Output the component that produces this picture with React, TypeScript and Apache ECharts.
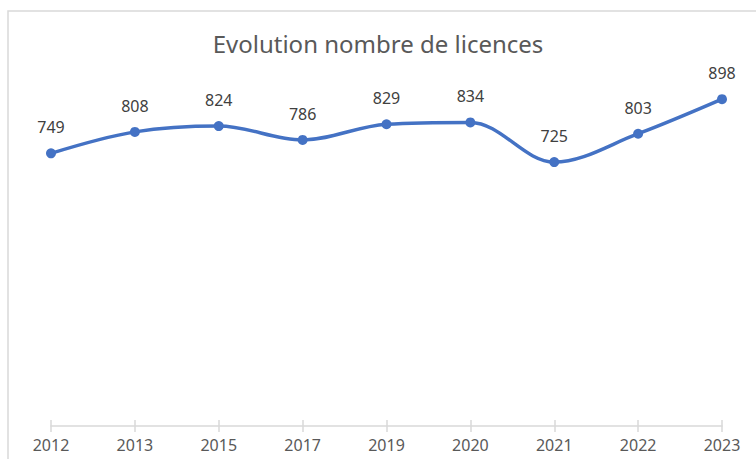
import React, { useEffect, useRef } from "react";
import * as echarts from "echarts";

const years = ["2012", "2013", "2015", "2017", "2019", "2020", "2021", "2022", "2023"];
const licences = [749, 808, 824, 786, 829, 834, 725, 803, 898];
const titleText = "Evolution nombre de licences";

export default function App() {
  const ref = useRef<HTMLDivElement>(null);
  useEffect(() => {
    const chart = echarts.init(ref.current!, null, { renderer: "svg" });
    const font = "'Noto Sans', sans-serif";
    chart.setOption({
      animation: false,
      backgroundColor: "#ffffff",
      title: {
        text: titleText,
        left: "center",
        top: 26,
        textStyle: { fontFamily: font, fontSize: 24, fontWeight: "normal", color: "#595959" },
      },
      graphic: [
        {
          type: "rect",
          shape: { x: 8, y: 11, width: 820, height: 520 },
          style: { fill: "none", stroke: "#d9d9d9", lineWidth: 1.5 },
          silent: true,
        },
      ],
      grid: { left: 51, right: 34, top: 62, bottom: 33 },
      xAxis: [
        {
          type: "category",
          data: years,
          boundaryGap: false,
          axisLine: { lineStyle: { color: "#d9d9d9", width: 1.5 } },
          axisTick: { show: true, length: 6, lineStyle: { color: "#d9d9d9", width: 1.5 } },
          axisLabel: { fontFamily: font, fontSize: 16, color: "#595959", margin: 11 },
        },
        {
          type: "category",
          data: years,
          boundaryGap: false,
          position: "bottom",
          axisLine: { show: false },
          axisTick: { show: true, inside: true, length: 6, lineStyle: { color: "#d9d9d9", width: 1.5 } },
          axisLabel: { show: false },
        },
      ],
      yAxis: { type: "value", min: 0, max: 1000, show: false, splitLine: { show: false } },
      series: [
        {
          type: "line",
          data: licences,
          smooth: 0.35,
          symbol: "circle",
          symbolSize: 10,
          lineStyle: { color: "#4472C4", width: 3.5 },
          itemStyle: { color: "#4472C4" },
          label: {
            show: true,
            position: "top",
            distance: 13,
            fontFamily: font,
            fontSize: 16,
            color: "#404040",
          },
        },
      ],
    });
    return () => chart.dispose();
  }, []);
  return (
    <div
      ref={ref}
      style={{ position: "fixed", left: 0, top: 0, width: 756, height: 459 }}
    />
  );
}
